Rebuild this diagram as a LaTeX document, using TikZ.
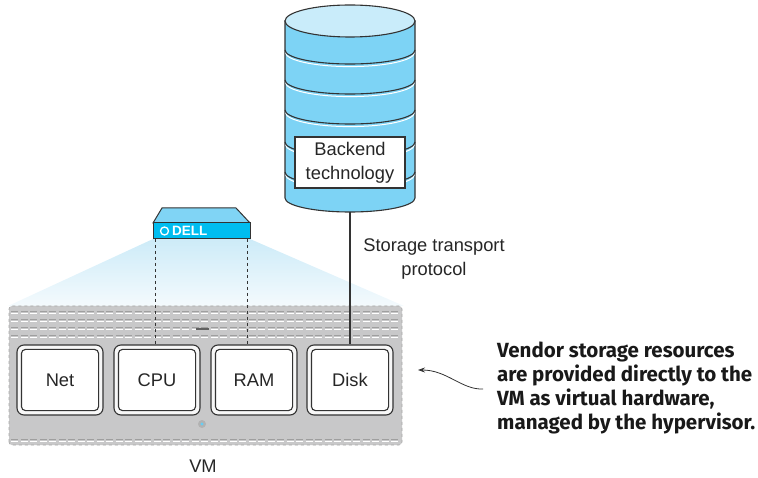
\documentclass[tikz,border=0pt]{standalone}
\usepackage{fontspec}
\setmainfont{Liberation Sans}
\newfontfamily\notefont{Fira Sans}
\usetikzlibrary{arrows.meta,calc}
\definecolor{cylbody}{HTML}{7DD3F5}
\definecolor{cyltop}{HTML}{C9ECFA}
\definecolor{dellfront}{HTML}{00BDF0}
\definecolor{delltop}{HTML}{80D4F5}
\definecolor{chassis}{HTML}{C8C8C9}
\definecolor{edge}{HTML}{333333}
\definecolor{fantop}{HTML}{CDEBF8}
\definecolor{fanbot}{HTML}{F4FAFD}
\tikzset{
  outline/.style={draw=edge, line width=1.1pt},
  slotouter/.style={outline, fill=gray!6, rounded corners=7pt, minimum width=86pt, minimum height=70pt, inner sep=0pt},
  slotinner/.style={outline, fill=white, rounded corners=4pt},
  label/.style={font=\fontsize{18.3}{21}\selectfont, text=black!85},
  grille/.style={draw=gray!75, line width=0.9pt, dash pattern=on 7pt off 2.5pt},
  grillehi/.style={draw=white, line width=0.8pt, dash pattern=on 7pt off 2.5pt},
}
\begin{document}
\begin{tikzpicture}[x=1pt,y=1pt]
\useasboundingbox (0,0) rectangle (758,-478);

% light fan between the server and the chassis
\shade[top color=fantop, bottom color=fanbot] (153,-239) -- (250,-239) -- (404,-306) -- (8,-306) -- cycle;

% chassis of the virtual machine
\path[fill=chassis, draw=gray!70, dashed, line width=0.6pt, rounded corners=3pt]
  (9,-445) -- (9,-306) -- (402,-306) -- (402,-445) -- cycle;
\foreach \y in {311,319,327,335}{
  \draw[grille] (11,-\y) -- (400,-\y);
  \draw[grillehi] (11,-\y-2.6) -- (400,-\y-2.6);
}
\draw[grille] (11,-439) -- (400,-439);
\draw[grillehi] (11,-441.6) -- (400,-441.6);
\draw[gray!75!black, line width=2pt] (196,-329) -- (209,-329);
\fill[gray!60] (202,-424) circle (4pt);
\fill[cyan!60] (202,-424) circle (1.6pt);

% resource slots
\foreach \n/\t/\x in {net/Net/60, cpu/CPU/157, ram/RAM/254, disk/Disk/350}{
  \node[slotouter] (\n) at (\x,-380) {};
  \draw[slotinner] ($(\n.south west)+(5,5)$) rectangle ($(\n.north east)+(-5,-5)$);
  \node[label] at (\n) {\t};
}
\node[label] (vm) at (203,-466) {VM};

% server
\draw[outline, line width=1pt, fill=delltop] (153,-223) -- (162,-208) -- (236,-208) -- (250,-223) -- cycle;
\draw[outline, line width=1pt, fill=dellfront] (153,-223) rectangle (250,-239);
\draw[white, line width=1.3pt] (164.5,-231) circle (4pt);
\node[anchor=west, text=white, inner sep=0pt, font=\fontsize{13.5}{14}\selectfont\bfseries] (dell) at (172,-231) {DELL};
\coordinate (dellL) at (155,-239);
\coordinate (dellR) at (247,-239);
\draw[edge, dashed, line width=0.9pt] (dellL) -- (dellL |- cpu.north);
\draw[edge, dashed, line width=0.9pt] (dellR) -- (dellR |- ram.north);

% storage cylinder
\path[outline, fill=cylbody] (285,-21) -- (285,-198)
  arc[start angle=180, end angle=360, x radius=65, y radius=14] -- (415,-21) -- cycle;
\foreach \y in {50,80,110,142,172}{
  \draw[white, line width=1pt] (285.6,-\y-2.6) arc[start angle=180, end angle=360, x radius=64.4, y radius=14];
  \draw[outline] (285,-\y) arc[start angle=180, end angle=360, x radius=65, y radius=14];
}
\draw[outline, fill=cyltop] (350,-21) ellipse [x radius=65, y radius=16];
\coordinate (cylbot) at (350,-212);
\node[outline, fill=white, minimum width=110pt, minimum height=51pt, inner sep=0pt,
      align=center, label, font=\fontsize{18.3}{24}\selectfont] (backend) at (350,-162.5) {Backend\\technology};

\draw[edge, line width=1.4pt] (cylbot) -- (disk.north);
\node[label, align=center, font=\fontsize{18.3}{24}\selectfont] (proto) at (434,-259) {Storage transport\\protocol};

% note on the right
\coordinate (tip) at (418,-370);
\coordinate (tail) at (483,-389);
\draw[edge, line width=0.8pt, -{Stealth[length=7pt,width=5pt]}] (tail) .. controls (462,-390) and (447,-370) .. (tip);
\node[anchor=north west, align=left, inner sep=0pt, text=black!90,
      font=\notefont\fontsize{20.5}{23.8}\selectfont\bfseries] (note) at (497,-342)
  {Vendor storage resources\\are provided directly to the\\VM as virtual hardware,\\managed by the hypervisor.};
\end{tikzpicture}
\end{document}
